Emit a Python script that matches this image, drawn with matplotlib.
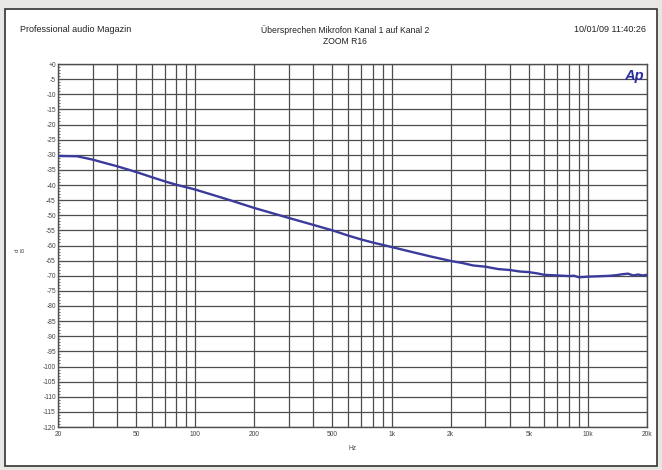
import numpy as np
import matplotlib.pyplot as plt
from matplotlib.patches import Rectangle
from matplotlib.ticker import FixedLocator, NullFormatter

plt.rcParams['font.family'] = ['Liberation Sans', 'DejaVu Sans']

freq_hz = [20, 25, 30, 35, 40, 50, 60, 70, 80, 100, 150, 200, 300, 400, 500,
           600, 700, 800, 1000, 1300, 1600, 2000, 2300, 2600, 3000, 3500,
           4000, 4500, 5000, 5500, 6000, 7000, 8000, 8500, 9000, 10000,
           11000, 12000, 13000, 14000, 15000, 16000, 17000, 18000, 19000, 20000]
pegel_db = [-30.4, -30.5, -31.6, -32.8, -33.8, -35.7, -37.4, -38.8, -39.9, -41.5,
            -45.0, -47.6, -50.9, -53.2, -55.0, -56.7, -58.0, -59.0, -60.5,
            -62.3, -63.7, -65.1, -65.8, -66.6, -67.0, -67.8, -68.1, -68.6,
            -68.8, -69.2, -69.7, -69.9, -70.1, -70.0, -70.5, -70.3, -70.2,
            -70.1, -70.0, -69.8, -69.5, -69.3, -69.9, -69.6, -69.9, -69.7]

x_ticks = [20, 50, 100, 200, 500, 1000, 2000, 5000, 10000, 20000]
x_labels = ['20', '50', '100', '200', '500', '1k', '2k', '5k', '10k', '20k']
x_grid = [20, 30, 40, 50, 60, 70, 80, 90, 100, 200, 300, 400, 500, 600, 700,
          800, 900, 1000, 2000, 3000, 4000, 5000, 6000, 7000, 8000, 9000,
          10000, 20000]
y_ticks = list(range(0, -125, -5))
y_labels = ['+0'] + [str(v) for v in y_ticks[1:]]

W, H = 662, 470
fig = plt.figure(figsize=(W / 100, H / 100), dpi=100)
fig.patch.set_facecolor('#e9e7e5')

# weisses Blatt mit Rahmen
fig.patches.append(Rectangle((5 / W, 1 - 466 / H), 652 / W, 457 / H,
                             transform=fig.transFigure, facecolor='white',
                             edgecolor='#333333', linewidth=1.2, zorder=-5))

ax = fig.add_axes([58 / W, 1 - 427 / H, 589 / W, 363 / H])
ax.set_zorder(2)
ax.set_xscale('log')
ax.set_xlim(20, 20000)
ax.set_ylim(-120, 0)

ax.plot(freq_hz, pegel_db, color='#3b3b9c', linewidth=1.7, zorder=3)

ax.xaxis.set_major_locator(FixedLocator(x_ticks))
ax.xaxis.set_minor_locator(FixedLocator(x_grid))
ax.xaxis.set_minor_formatter(NullFormatter())
ax.set_xticklabels(x_labels)
ax.set_yticks(y_ticks)
ax.set_yticklabels(y_labels)
ax.yaxis.set_minor_locator(FixedLocator(range(0, -121, -1)))

ax.grid(True, which='minor', axis='x', color='#4d4d4d', linewidth=0.9)
ax.grid(True, which='major', axis='both', color='#4d4d4d', linewidth=0.9)
ax.tick_params(axis='both', which='both', labelsize=4.8, colors='#555555',
               labelcolor='#444444')
ax.tick_params(axis='x', which='both', length=0, pad=3)
ax.tick_params(axis='y', which='major', direction='in', length=3, pad=1.5)
ax.tick_params(axis='y', which='minor', direction='in', length=1.5)
for s in ax.spines.values():
    s.set_color('#4d4d4d')
    s.set_linewidth(1.0)

ax.set_xlabel('Hz', fontsize=4.8, color='#444444', labelpad=5)
fig.text(20 / W, 1 - 250 / H, 'd\nB', fontsize=4.5, color='#444444',
         ha='center', va='center', rotation=90)

fig.text(20 / W, 1 - 30 / H, 'Professional audio Magazin', fontsize=6.5,
         color='#222222', ha='left', va='center')
fig.text(345 / W, 1 - 30 / H, 'Übersprechen Mikrofon Kanal 1 auf Kanal 2',
         fontsize=6.2, color='#222222', ha='center', va='center')
fig.text(345 / W, 1 - 41 / H, 'ZOOM R16', fontsize=6.2, color='#222222',
         ha='center', va='center')
fig.text(646 / W, 1 - 30 / H, '10/01/09 11:40:26', fontsize=6.5,
         color='#222222', ha='right', va='center')

ax.text(0.995, 0.985, 'Ap', transform=ax.transAxes, fontsize=10.5,
        fontweight='bold', fontstyle='italic', color='#2b2f9e',
        ha='right', va='top', zorder=4)

fig.savefig('out.png', dpi=100, facecolor=fig.get_facecolor())
